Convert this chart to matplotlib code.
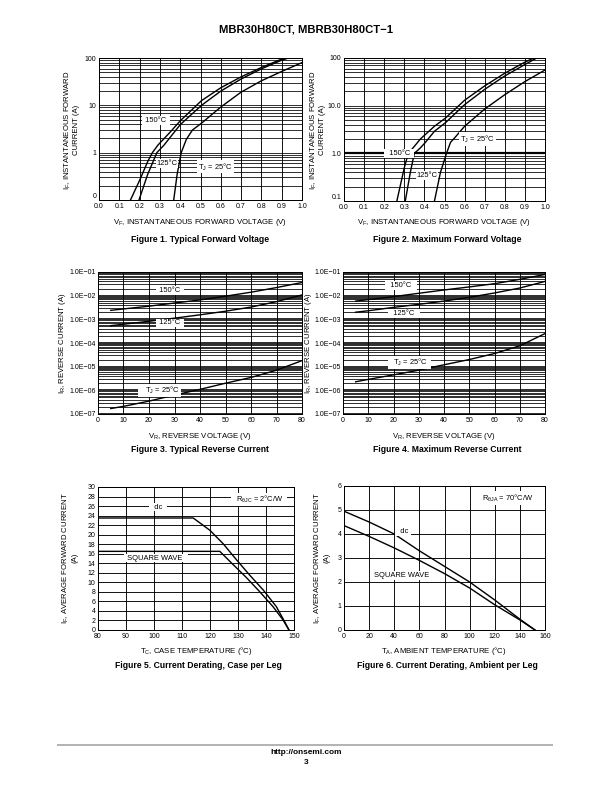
import matplotlib
matplotlib.use('Agg')
import matplotlib.pyplot as plt
from matplotlib.lines import Line2D
from matplotlib.ticker import NullFormatter, FixedLocator
import numpy as np

plt.rcParams['font.family'] = ['Liberation Sans', 'DejaVu Sans']
plt.rcParams['mathtext.default'] = 'regular'

# Figure 1 - typical forward voltage
f1_v150 = [0.155, 0.20, 0.24, 0.263, 0.29, 0.35, 0.40, 0.45, 0.505, 0.6, 0.7, 0.8, 0.9, 0.96]
f1_i150 = [0.1, 0.26, 0.65, 1.0, 1.44, 2.7, 4.7, 7.5, 12.6, 23.5, 40, 63, 95, 112]
f1_v125 = [0.197, 0.24, 0.285, 0.32, 0.40, 0.505, 0.6, 0.7, 0.8, 0.9, 0.97]
f1_i125 = [0.1, 0.35, 1.0, 1.44, 3.9, 10, 20, 36, 59, 90, 112]
f1_v25 = [0.368, 0.385, 0.405, 0.43, 0.46, 0.505, 0.6, 0.7, 0.8, 0.9, 1.0]
f1_i25 = [0.1, 0.35, 1.0, 1.9, 3.0, 4.2, 9.2, 19, 33, 52, 80]

# Figure 2 - maximum forward voltage
f2_v150 = [0.263, 0.30, 0.32, 0.35, 0.38, 0.45, 0.505, 0.6, 0.7, 0.8, 0.9, 0.97]
f2_i150 = [0.1, 0.5, 1.0, 1.4, 2.0, 3.7, 5.5, 13, 26, 48, 82, 112]
f2_v125 = [0.305, 0.33, 0.35, 0.38, 0.405, 0.45, 0.505, 0.6, 0.7, 0.8, 0.9, 0.98]
f2_i125 = [0.1, 0.4, 1.0, 1.3, 1.7, 2.9, 4.4, 10.5, 22, 42, 73, 112]
f2_v25 = [0.45, 0.48, 0.51, 0.53, 0.55, 0.6, 0.7, 0.8, 0.9, 1.0]
f2_i25 = [0.1, 0.4, 1.0, 1.7, 2.1, 3.7, 8.5, 17, 32, 56]

# Figures 3/4 - reverse current
vr = [5, 10, 20, 30, 40, 50, 60, 70, 80]
f3_i150 = [2.4e-3, 2.75e-3, 3.6e-3, 4.9e-3, 6.6e-3, 9.5e-3, 1.4e-2, 2.2e-2, 3.6e-2]
f3_i125 = [5.4e-4, 6.2e-4, 8.3e-4, 1.12e-3, 1.55e-3, 2.2e-3, 3.3e-3, 5.6e-3, 1.07e-2]
f3_i25 = [1.7e-7, 2.1e-7, 3.5e-7, 6.3e-7, 1.1e-6, 2.0e-6, 3.5e-6, 7.1e-6, 1.8e-5]
f4_i150 = [5.9e-3, 6.8e-3, 9.1e-3, 1.26e-2, 1.74e-2, 2.34e-2, 3.2e-2, 4.9e-2, 7.9e-2]
f4_i125 = [2.0e-3, 2.3e-3, 3.2e-3, 4.3e-3, 5.9e-3, 8.5e-3, 1.3e-2, 2.1e-2, 4.0e-2]
f4_i25 = [2.3e-6, 2.9e-6, 4.5e-6, 7.1e-6, 1.2e-5, 2.0e-5, 3.6e-5, 7.6e-5, 2.5e-4]

# Figure 5 - derating, case
f5_tdc = [80, 114.0, 120.0, 124.7, 129.5, 134.2, 139.0, 143.7, 146.7, 148.2]
f5_idc = [23.5, 23.5, 20.9, 18.1, 14.7, 11.5, 8.4, 4.9, 1.7, 0]
f5_tsq = [80, 123.5, 128.3, 133.0, 137.8, 142.5, 146.1, 148.2]
f5_isq = [16.5, 16.5, 13.7, 11.0, 8.0, 4.9, 2.1, 0]

# Figure 6 - derating, ambient
f6_t = [0, 20, 40, 60, 80, 100, 120, 140, 152]
f6_idc = [4.95, 4.5, 4.0, 3.3, 2.65, 2.0, 1.25, 0.45, 0]
f6_isq = [4.35, 3.9, 3.42, 2.9, 2.35, 1.75, 1.05, 0.42, 0]

W, H = 612, 792
fig = plt.figure(figsize=(W / 72, H / 72), dpi=72)


def box(x0, y0, x1, y1):
    return [x0 / W, 1 - y1 / H, (x1 - x0) / W, (y1 - y0) / H]


def px(x, y):
    return x / W, 1 - y / H


def setup(ax):
    ax.tick_params(which='both', length=0, labelsize=7, pad=2.5)
    ax.tick_params(axis='x', pad=3)
    for s in ax.spines.values():
        s.set_linewidth(1.0)
    ax.set_axisbelow(True)


def log_grid(ax, lo, hi, decade_lw=0.8):
    ax.set_yscale('log')
    ax.set_ylim(lo, hi)
    ax.yaxis.set_minor_locator(FixedLocator(
        [m * 10.0 ** e for e in range(int(np.log10(lo)), int(np.log10(hi)))
         for m in range(2, 10)]))
    ax.yaxis.set_minor_formatter(NullFormatter())
    ax.grid(True, which='minor', axis='y', color='black', lw=0.8)
    ax.grid(True, which='major', axis='y', color='black', lw=decade_lw)
    ax.grid(True, which='major', axis='x', color='black', lw=0.9)


def label(ax, x, y, s):
    ax.text(x, y, s, ha='center', va='center', fontsize=7.5,
            bbox=dict(fc='white', ec='none', pad=1.0), zorder=5)


lw = 1.4
kw = dict(color='black', lw=lw, zorder=4)

# ---- Figure 1
ax1 = fig.add_axes(box(99, 58, 302, 200))
setup(ax1)
log_grid(ax1, 0.1, 100)
ax1.set_xlim(0, 1)
ax1.set_xticks(np.arange(0, 1.01, 0.1))
ax1.set_xticklabels(['%.1f' % v for v in np.arange(0, 1.01, 0.1)])
ax1.set_yticks([0.1, 1, 10, 100])
ax1.set_yticklabels(['0', '1', '10', '100'])
ax1.yaxis.get_major_ticks()[0].label1.set_va('bottom')
ax1.plot(f1_v150, f1_i150, **kw)
ax1.plot(f1_v125, f1_i125, **kw)
ax1.plot(f1_v25, f1_i25, **kw)
label(ax1, 0.281, 4.7, ' 150°C ')
label(ax1, 0.335, 0.6, '125°C')
label(ax1, 0.575, 0.5, 'T$_J$ = 25°C ')

# ---- Figure 2
ax2 = fig.add_axes(box(344, 58, 545, 201))
setup(ax2)
log_grid(ax2, 0.1, 100)
ax2.axhline(1.0, color='black', lw=2.2, zorder=1)
ax2.set_xlim(0, 1)
ax2.set_xticks(np.arange(0, 1.01, 0.1))
ax2.set_xticklabels(['%.1f' % v for v in np.arange(0, 1.01, 0.1)])
ax2.set_yticks([0.1, 1, 10, 100])
ax2.set_yticklabels(['0.1', '1.0', '10.0', '100'])
ax2.yaxis.get_major_ticks()[0].label1.set_va('bottom')
ax2.plot(f2_v150, f2_i150, **kw)
ax2.plot(f2_v125, f2_i125, **kw)
ax2.plot(f2_v25, f2_i25, **kw)
label(ax2, 0.274, 1.0, '  150°C ')
label(ax2, 0.413, 0.35, '125°C')
label(ax2, 0.665, 2.0, 'T$_J$ = 25°C ')

# ---- Figure 3 and 4
rev_ticks = [1e-7, 1e-6, 1e-5, 1e-4, 1e-3, 1e-2, 1e-1]
rev_labels = ['1.0E\u221207', '1.0E\u221206', '1.0E\u221205', '1.0E\u221204',
              '1.0E\u221203', '1.0E\u221202', '1.0E\u221201']
ax3 = fig.add_axes(box(98, 272, 302, 414))
ax4 = fig.add_axes(box(343, 272, 545, 414))
for ax, a, b, c in [(ax3, f3_i150, f3_i125, f3_i25), (ax4, f4_i150, f4_i125, f4_i25)]:
    setup(ax)
    log_grid(ax, 1e-7, 1e-1, decade_lw=1.6)
    ax.set_xlim(0, 80)
    ax.set_xticks(range(0, 81, 10))
    ax.set_yticks(rev_ticks)
    ax.set_yticklabels(rev_labels)
    ax.plot(vr, a, **kw)
    ax.plot(vr, b, **kw)
    ax.plot(vr, c, **kw)
label(ax3, 28.2, 1.6e-2, ' 150°C ')
label(ax3, 28.2, 7e-4, ' 125°C ')
label(ax3, 24.3, 1.0e-6, '   T$_J$ = 25°C ')
label(ax4, 23.0, 2.6e-2, '  150°C  ')
label(ax4, 24.2, 1.7e-3, '  125°C  ')
label(ax4, 26.5, 1.5e-5, '  T$_J$ = 25°C  ')

# ---- Figure 5
ax5 = fig.add_axes(box(98, 487, 294, 630))
setup(ax5)
ax5.set_xlim(80, 150)
ax5.set_ylim(0, 30)
ax5.set_xticks(range(80, 151, 10))
ax5.set_yticks(range(0, 31, 2))
ax5.grid(True, color='black', lw=0.9)
ax5.plot(f5_tdc, f5_idc, **kw)
ax5.plot(f5_tsq, f5_isq, **kw)
label(ax5, 137.5, 27.4, '  R$_{θJC}$ = 2°C/W  ')
label(ax5, 101.4, 25.8, '  dc  ')
label(ax5, 100.7, 15.1, ' SQUARE WAVE  ')

# ---- Figure 6
ax6 = fig.add_axes(box(344, 486, 545, 630))
setup(ax6)
ax6.set_xlim(0, 160)
ax6.set_ylim(0, 6)
ax6.set_xticks(range(0, 161, 20))
ax6.set_yticks(range(0, 7))
ax6.grid(True, color='black', lw=0.9)
ax6.plot(f6_t, f6_idc, **kw)
ax6.plot(f6_t, f6_isq, **kw)
label(ax6, 129.8, 5.5, ' R$_{θJA}$ = 70°C/W ')
label(ax6, 47.0, 4.12, '  dc ')
label(ax6, 46.2, 2.29, 'SQUARE WAVE')

# ---- axis labels and captions
fs = 7.8
ylab1 = 'I$_F$, INSTANTANEOUS FORWARD\nCURRENT (A)'
fig.text(*px(71.5, 130), ylab1, rotation=90, ha='center', va='center',
         fontsize=fs, multialignment='center', linespacing=1.05)
fig.text(*px(317.5, 130), ylab1, rotation=90, ha='center', va='center',
         fontsize=fs, multialignment='center', linespacing=1.05)
fig.text(*px(63, 343), 'I$_R$, REVERSE CURRENT (A)', rotation=90,
         ha='center', va='center', fontsize=fs)
fig.text(*px(308, 343), 'I$_R$, REVERSE CURRENT (A)', rotation=90,
         ha='center', va='center', fontsize=fs)
ylab5 = 'I$_F$, AVERAGE FORWARD CURRENT\n(A)'
fig.text(*px(69.5, 558), ylab5, rotation=90, ha='center', va='center',
         fontsize=fs, multialignment='center', linespacing=1.05)
fig.text(*px(322, 558), ylab5, rotation=90, ha='center', va='center',
         fontsize=fs, multialignment='center', linespacing=1.05)

xl = 'V$_F$, INSTANTANEOUS FORWARD VOLTAGE (V)'
fig.text(*px(200, 222), xl, ha='center', va='center', fontsize=fs)
fig.text(*px(444, 222), xl, ha='center', va='center', fontsize=fs)
fig.text(*px(200, 436), 'V$_R$, REVERSE VOLTAGE (V)', ha='center', va='center', fontsize=fs)
fig.text(*px(444, 436), 'V$_R$, REVERSE VOLTAGE (V)', ha='center', va='center', fontsize=fs)
fig.text(*px(196, 651), 'T$_C$, CASE TEMPERATURE (°C)', ha='center', va='center', fontsize=fs)
fig.text(*px(444, 651), 'T$_A$, AMBIENT TEMPERATURE (°C)', ha='center', va='center', fontsize=fs)

cap = dict(ha='center', va='center', fontsize=8.6, fontweight='bold')
fig.text(*px(200, 240), 'Figure 1. Typical Forward Voltage', **cap)
fig.text(*px(447, 240), 'Figure 2. Maximum Forward Voltage', **cap)
fig.text(*px(200, 449), 'Figure 3. Typical Reverse Current', **cap)
fig.text(*px(447, 449), 'Figure 4. Maximum Reverse Current', **cap)
fig.text(*px(198, 665), 'Figure 5. Current Derating, Case per Leg', **cap)
fig.text(*px(447, 665), 'Figure 6. Current Derating, Ambient per Leg', **cap)

fig.text(*px(306, 30), 'MBR30H80CT, MBRB30H80CT\u22121', ha='center', va='center',
         fontsize=11.2, fontweight='bold')

fig.add_artist(Line2D([58 / W, 552 / W], [1 - 745 / H, 1 - 745 / H],
                      color='#b4b4b4', lw=2))
fig.text(*px(306, 752), 'http://onsemi.com', ha='center', va='center',
         fontsize=8.2, fontweight='bold')
fig.text(*px(306, 763), '3', ha='center', va='center', fontsize=8.2, fontweight='bold')

fig.savefig('out.png', dpi=72)
